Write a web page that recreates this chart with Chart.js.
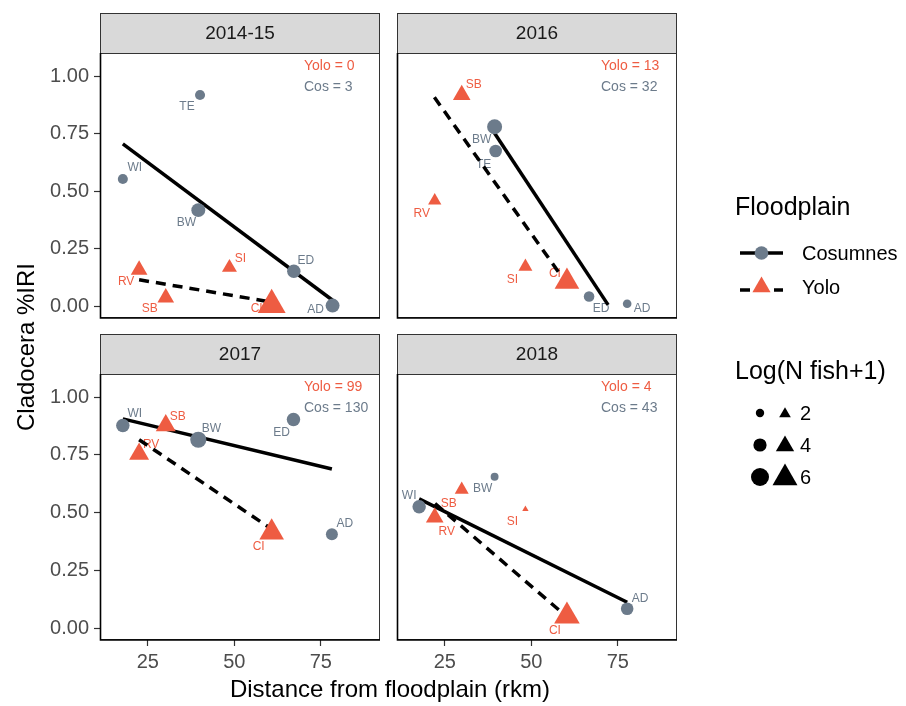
<!DOCTYPE html>
<html>
<head>
<meta charset="utf-8">
<script src="https://cdn.jsdelivr.net/npm/chart.js@4.4.0/dist/chart.umd.min.js"></script>
<style>
  body { margin: 0; background: #fff; }
  #wrap { position: relative; width: 906px; height: 706px; }
  canvas { position: absolute; left: 0; top: 0; }
</style>
</head>
<body>
<div id="wrap">
  <canvas id="p0" width="906" height="706"></canvas>
  <canvas id="p1" width="906" height="706"></canvas>
  <canvas id="p2" width="906" height="706"></canvas>
  <canvas id="p3" width="906" height="706"></canvas>
</div>
<script>
// panels, in facet order
const years = ['2014-15', '2016', '2017', '2018'];

// Cosumnes sites
const cosSites = [['TE', 'WI', 'BW', 'ED', 'AD'], ['BW', 'TE', 'ED', 'AD'], ['WI', 'BW', 'ED', 'AD'], ['WI', 'BW', 'AD']];
const cosX = [[40.1, 17.8, 39.6, 67.2, 78.4], [39.4, 39.7, 66.7, 77.7], [17.8, 39.6, 67.1, 78.2], [17.6, 39.4, 77.7]];
const cosY = [[0.918, 0.553, 0.418, 0.153, 0.004], [0.780, 0.675, 0.043, 0.012], [0.877, 0.816, 0.903, 0.407], [0.526, 0.656, 0.085]];
const cosLogN = [[2.7, 2.7, 4.3, 4.1, 4.3], [4.75, 3.75, 2.9, 2.1], [4.1, 5.2, 4.1, 3.5], [4.1, 1.8, 3.75]];

// Yolo sites
const yoloSites = [['RV', 'SB', 'SI', 'CI'], ['SB', 'RV', 'SI', 'CI'], ['SB', 'RV', 'CI'], ['SB', 'RV', 'SI', 'CI']];
const yoloX = [[22.5, 30.2, 48.6, 60.8], [29.9, 22.1, 48.3, 60.3], [30.2, 22.5, 60.8], [29.9, 22.1, 48.3, 60.3]];
const yoloY = [[0.159, 0.038, 0.169, 0.007], [0.918, 0.459, 0.173, 0.108], [0.877, 0.754, 0.415], [0.600, 0.480, 0.516, 0.053]];
const yoloLogN = [[3.5, 3.5, 3.0, 6.9], [3.8, 2.5, 2.7, 5.9], [4.5, 4.5, 5.9], [2.7, 3.8, 0.4, 6.2]];

// fitted lm lines, start and end
const cosFitX = [[17.8, 78.4], [39.4, 72.2], [17.8, 78.2], [17.6, 77.7]];
const cosFitY = [[0.706, 0.027], [0.752, 0.007], [0.906, 0.689], [0.560, 0.113]];
const yoloFitX = [[22.5, 60.8], [22.0, 60.3], [22.5, 60.8], [22.2, 60.3]];
const yoloFitY = [[0.116, 0.019], [0.908, 0.098], [0.816, 0.429], [0.540, 0.050]];

// fish counts shown top right
const yoloN = [0, 13, 99, 4];
const cosN = [3, 32, 130, 43];

const yTicks = [0, 0.25, 0.5, 0.75, 1];
const xTicks = [25, 50, 75];
const sizeBreaks = [2, 4, 6];

// repel offsets of the site labels (px)
const cosNudge = [
  [[-13, 12], [12, -11], [-12, 13], [12, -11], [-17, 4]],
  [[-13, 13], [-12, 14], [12, 12], [15, 5]],
  [[12, -12], [13, -11], [-12, 13], [13, -11]],
  [[-10, -11], [-12, 12], [13, -10]]
];
const yoloNudge = [
  [[-13, 12], [-16, 11], [11, -9], [-15, 4]],
  [[12, -10], [-13, 13], [-13, 13], [-12, -8]],
  [[12, -9], [12, -9], [-13, 14]],
  [[-13, 14], [12, 14], [-13, 13], [-12, 15]]
];

const cosCol = '#6C7B8B';
const yoloCol = '#EE5C42';
const FONT = '"Liberation Sans", Arial, Helvetica, sans-serif';

const colsX = [[100, 380], [397, 677]];
const rowsY = [[53, 318], [374, 640]];
const stripH = 40;

function sizeC(v) { return 1.8 + 1.2 * v; }
function sizeT(v) { return 1.6 * sizeC(v); }

function tri(ctx, x, y, r) {
  ctx.beginPath();
  ctx.moveTo(x, y - r);
  ctx.lineTo(x + r * Math.sin(2 * Math.PI / 3), y + r / 2);
  ctx.lineTo(x - r * Math.sin(2 * Math.PI / 3), y + r / 2);
  ctx.closePath();
  ctx.fill();
}

const panelDeco = {
  id: 'panelDeco',
  beforeDraw(chart, args, o) {
    const ctx = chart.ctx, a = chart.chartArea;
    ctx.save();
    ctx.fillStyle = '#D9D9D9';
    ctx.fillRect(a.left, a.top - stripH, a.right - a.left, stripH);
    ctx.strokeStyle = '#333';
    ctx.lineWidth = 1;
    ctx.strokeRect(a.left + 0.5, a.top - stripH + 0.5, a.right - a.left - 1, stripH);
    ctx.fillStyle = '#1A1A1A';
    ctx.font = '19px ' + FONT;
    ctx.textAlign = 'center';
    ctx.textBaseline = 'middle';
    ctx.fillText(o.title, (a.left + a.right) / 2, a.top - stripH / 2 + 1);
    ctx.restore();
  },
  beforeDatasetsDraw(chart, args, o) {
    const ctx = chart.ctx, xs = chart.scales.x, ys = chart.scales.y, i = o.idx;
    ctx.save();
    ctx.font = '12px ' + FONT;
    ctx.textAlign = 'center';
    ctx.textBaseline = 'middle';
    ctx.fillStyle = cosCol;
    cosSites[i].forEach((s, k) => {
      ctx.fillText(s, xs.getPixelForValue(cosX[i][k]) + cosNudge[i][k][0], ys.getPixelForValue(cosY[i][k]) + cosNudge[i][k][1]);
    });
    ctx.fillStyle = yoloCol;
    yoloSites[i].forEach((s, k) => {
      ctx.fillText(s, xs.getPixelForValue(yoloX[i][k]) + yoloNudge[i][k][0], ys.getPixelForValue(yoloY[i][k]) + yoloNudge[i][k][1]);
    });
    ctx.restore();
  },
  afterDraw(chart, args, o) {
    const ctx = chart.ctx, a = chart.chartArea, i = o.idx;
    ctx.save();
    ctx.font = '14px ' + FONT;
    ctx.textAlign = 'left';
    ctx.textBaseline = 'middle';
    ctx.fillStyle = yoloCol;
    ctx.fillText('Yolo = ' + yoloN[i], a.left + 204, a.top + 13);
    ctx.fillStyle = cosCol;
    ctx.fillText('Cos = ' + cosN[i], a.left + 204, a.top + 34);
    ctx.strokeStyle = '#333';
    ctx.lineWidth = 1;
    ctx.strokeRect(a.left + 0.5, a.top + 0.5, a.right - a.left - 1, a.bottom - a.top - 1);
    ctx.strokeStyle = '#000';
    ctx.lineWidth = 1.6;
    ctx.beginPath();
    ctx.moveTo(a.left + 0.5, a.top);
    ctx.lineTo(a.left + 0.5, a.bottom);
    ctx.lineTo(a.right, a.bottom);
    ctx.stroke();
    ctx.restore();
  }
};

const pageDeco = {
  id: 'pageDeco',
  afterDraw(chart) {
    const ctx = chart.ctx;
    ctx.save();
    ctx.fillStyle = '#000';
    ctx.textBaseline = 'middle';
    ctx.font = '24px ' + FONT;
    ctx.textAlign = 'center';
    ctx.fillText('Distance from floodplain (rkm)', 390, 690);
    ctx.save();
    ctx.translate(27, 347);
    ctx.rotate(-Math.PI / 2);
    ctx.fillText('Cladocera %IRI', 0, 0);
    ctx.restore();

    // legend: floodplain
    ctx.textAlign = 'left';
    ctx.font = '25px ' + FONT;
    ctx.fillText('Floodplain', 735, 208);
    ctx.fillText('Log(N fish+1)', 735, 372);
    ctx.font = '20px ' + FONT;
    ctx.fillText('Cosumnes', 802, 254);
    ctx.fillText('Yolo', 802, 288);
    ctx.strokeStyle = '#000';
    ctx.lineWidth = 3.5;
    ctx.beginPath();
    ctx.moveTo(740, 253); ctx.lineTo(783, 253);
    ctx.stroke();
    ctx.setLineDash([10, 7]);
    ctx.beginPath();
    ctx.moveTo(740, 290); ctx.lineTo(783, 290);
    ctx.stroke();
    ctx.setLineDash([]);
    ctx.fillStyle = cosCol;
    ctx.beginPath(); ctx.arc(761.5, 253, 6.8, 0, 2 * Math.PI); ctx.fill();
    ctx.fillStyle = yoloCol;
    tri(ctx, 761.5, 287, 10.5);

    // legend: size
    ctx.fillStyle = '#000';
    ctx.font = '20px ' + FONT;
    sizeBreaks.forEach((v, k) => {
      const y = 413 + k * 32;
      ctx.beginPath(); ctx.arc(760, y, sizeC(v), 0, 2 * Math.PI); ctx.fill();
      tri(ctx, 785, y + 1, sizeT(v));
      ctx.fillText(String(v), 800, y + 1);
    });
    ctx.restore();
  }
};

function makePanel(i) {
  const col = i % 2, row = Math.floor(i / 2);
  const [L, R] = colsX[col];
  const [T, B] = rowsY[row];
  const yW = 50, xH = 40;
  const showY = col === 0, showX = row === 1;
  const pts = (xs, ys) => xs.map((x, k) => ({ x: x, y: ys[k] }));
  const plugins = [panelDeco];
  if (i === 0) plugins.push(pageDeco);
  return new Chart(document.getElementById('p' + i), {
    type: 'scatter',
    data: {
      datasets: [
        { label: 'Cosumnes', data: pts(cosX[i], cosY[i]), pointStyle: 'circle',
          pointRadius: cosLogN[i].map(sizeC), backgroundColor: cosCol, borderWidth: 0, order: 0 },
        { label: 'Yolo', data: pts(yoloX[i], yoloY[i]), pointStyle: 'triangle',
          pointRadius: yoloLogN[i].map(sizeT), backgroundColor: yoloCol, borderWidth: 0, order: 0 },
        { label: 'Cos fit', data: pts(cosFitX[i], cosFitY[i]), showLine: true, pointRadius: 0,
          borderColor: '#000', borderWidth: 3.5, order: 2 },
        { label: 'Yolo fit', data: pts(yoloFitX[i], yoloFitY[i]), showLine: true, pointRadius: 0,
          borderColor: '#000', borderWidth: 3.5, borderDash: [10, 7], order: 2 }
      ]
    },
    options: {
      responsive: false,
      animation: false,
      events: [],
      layout: { padding: { left: L - yW, right: 906 - R, top: T, bottom: 706 - B - xH } },
      plugins: {
        legend: { display: false },
        tooltip: { enabled: false },
        panelDeco: { idx: i, title: years[i] }
      },
      scales: {
        x: {
          type: 'linear', min: 11.2, max: 92.1,
          afterFit: s => { s.height = xH; },
          afterBuildTicks: s => { s.ticks = xTicks.map(v => ({ value: v })); },
          border: { display: false },
          grid: { display: showX, drawOnChartArea: false, tickLength: 6, color: '#333', tickWidth: 1.2 },
          ticks: { display: showX, padding: 4, color: '#4D4D4D', font: { family: FONT, size: 20 } }
        },
        y: {
          type: 'linear', min: -0.05, max: 1.1,
          afterFit: s => { s.width = yW; },
          afterBuildTicks: s => { s.ticks = yTicks.map(v => ({ value: v })); },
          border: { display: false },
          grid: { display: showY, drawOnChartArea: false, tickLength: 6, color: '#333', tickWidth: 1.2 },
          ticks: { display: showY, padding: 5, color: '#4D4D4D', font: { family: FONT, size: 20 },
            callback: v => v.toFixed(2) }
        }
      }
    },
    plugins: plugins
  });
}

years.forEach((y, i) => makePanel(i));
</script>
</body>
</html>
